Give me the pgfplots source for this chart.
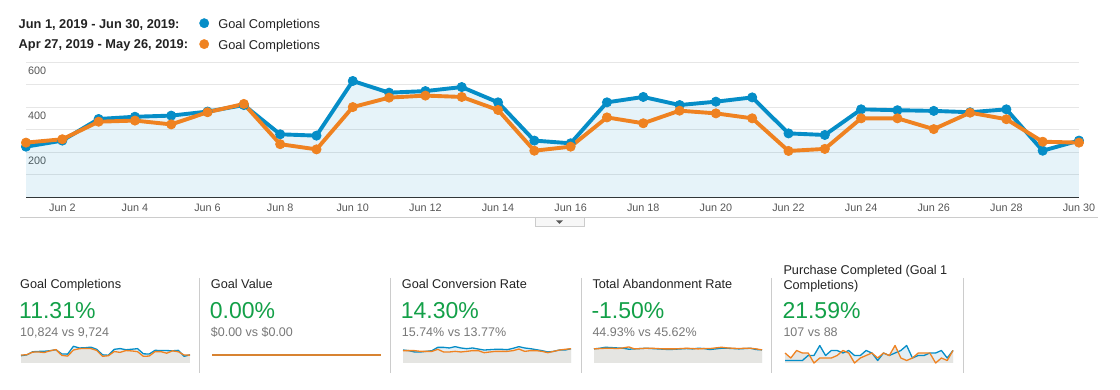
\documentclass[border=0pt]{standalone}
\usepackage{fontspec}
\setmainfont{Liberation Sans}
\usepackage{pgfplots}
\usepackage{pgfplotstable}
\pgfplotsset{compat=1.18}
\definecolor{gablue}{HTML}{058DC7}
\definecolor{gaorange}{HTML}{EF8221}
\definecolor{gridgray}{HTML}{E6E6E6}
\definecolor{basegray}{HTML}{333333}
\definecolor{labelgray}{HTML}{555555}
\definecolor{sepgray}{HTML}{CCCCCC}
\definecolor{sparkgray}{HTML}{E5E5E2}
\definecolor{sparkblue}{HTML}{E3EFF7}
\definecolor{gagreen}{HTML}{13A048}
\definecolor{subgray}{HTML}{777777}
\definecolor{titlecol}{HTML}{222222}
\newcommand\fs[1]{\fontsize{#1}{#1}\selectfont}

\pgfplotstableread{
d cur prev
1 225 243
2 252 258
3 348 336
4 358 341
5 363 324
6 381 378
7 410 415
8 280 236
9 274 213
10 517 401
11 465 443
12 472 452
13 490 446
14 422 388
15 252 207
16 240 225
17 422 355
18 446 329
19 410 385
20 425 373
21 444 351
22 284 206
23 277 215
24 391 351
25 387 351
26 384 303
27 378 376
28 391 347
29 207 247
30 252 243
}\maindata

\pgfplotstableread{
d b o
1 0 0
2 0 0
3 0 0
4 0 0
5 0 0
6 0 0
7 0 0
8 0 0
9 0 0
10 0 0
11 0 0
12 0 0
13 0 0
14 0 0
15 0 0
16 0 0
17 0 0
18 0 0
19 0 0
20 0 0
21 0 0
22 0 0
23 0 0
24 0 0
25 0 0
26 0 0
27 0 0
28 0 0
29 0 0
30 0 0
}\valuedata

\pgfplotstableread{
d b o
1 14.6 13.9
2 13.9 13.9
3 12.4 13.9
4 12.4 13.1
5 13.1 13.1
6 13.9 13.1
7 17.6 15.4
8 17.6 12.4
9 16.9 12.4
10 18.4 13.1
11 16.9 12.4
12 16.1 13.1
13 16.9 13.9
14 15.7 13.9
15 14.6 11.6
16 15.0 12.4
17 15.4 13.1
18 15.4 13.1
19 15.0 13.1
20 16.5 13.9
21 18.4 15.7
22 16.9 13.1
23 16.1 13.9
24 15.0 13.9
25 13.9 13.1
26 12.4 11.6
27 13.1 13.1
28 14.6 14.6
29 14.6 15.4
30 16.1 16.1
}\convdata

\pgfplotstableread{
d b o
1 43 43
2 45 44
3 48 45
4 47 45
5 46 44
6 45 46
7 42 49
8 43 43
9 44 44
10 45 45
11 44 45
12 43 44
13 42 43
14 41 43
15 42 43
16 43 44
17 44 45
18 43 44
19 45 43
20 44 44
21 41 44
22 43 46
23 45 48
24 45 46
25 44 45
26 43 44
27 44 45
28 45 45
29 41 43
30 40 40
}\abandata

\pgfplotstableread{
d b o
1 1 4
2 1 2
3 1 5
4 1 4
5 3 4
6 3 0
7 7 2
8 3 2
9 5 2
10 5 3
11 4 5
12 5 4
13 3 0
14 3 2
15 5 3
16 4 4
17 1 2
18 4 4
19 3 3
20 4 7
21 5 2
22 7 1
23 2 2
24 3 4
25 3 4
26 4 4
27 4 0
28 5 2
29 2 1
30 5 5
}\purchdata

\pgfplotsset{
  spark/.style={scale only axis, hide axis, anchor=south west,
    xmin=1, xmax=30, ymin=0, clip=false, width=168pt, height=20pt},
  sbline/.style={gablue, line width=1.3pt, line join=round},
  soline/.style={gaorange, line width=1.3pt, line join=round},
}

\begin{document}
\begin{tikzpicture}[x=1pt,y=1pt]
\useasboundingbox (0,0) rectangle (1120,390);

% legend date texts
\node[anchor=base west, inner sep=0pt, text=titlecol, font=\bfseries\fs{12.8}] at (18.5,361.7) {Jun 1, 2019 - Jun 30, 2019:};
\node[anchor=base west, inner sep=0pt, text=titlecol, font=\bfseries\fs{12.8}] at (18.5,341) {Apr 27, 2019 - May 26, 2019:};

\begin{axis}[
  at={(26pt,192.7pt)}, anchor=south west, scale only axis,
  width=1053pt, height=135pt,
  xmin=1, xmax=30, ymin=0, ymax=600,
  clip=false,
  axis line style={draw=none},
  major tick length=0pt, minor tick length=0pt,
  xtick={2,4,...,30},
  xticklabels={Jun 2,Jun 4,Jun 6,Jun 8,Jun 10,Jun 12,Jun 14,Jun 16,Jun 18,Jun 20,Jun 22,Jun 24,Jun 26,Jun 28,Jun 30},
  xticklabel style={font=\fs{10.8}, text=labelgray, anchor=north, inner sep=0pt, yshift=-6.5pt},
  ytick={200,400,600}, yticklabels={200,400,600},
  yticklabel style={font=\fs{10.8}, text=labelgray, anchor=north west, inner sep=0pt, xshift=2pt, yshift=-4.5pt},
  minor ytick={100,300,500},
  ymajorgrids, yminorgrids,
  major grid style={draw=gridgray, line width=0.9pt},
  minor grid style={draw=gridgray, line width=0.9pt},
  extra y ticks={0}, extra y tick labels={},
  extra y tick style={major grid style={draw=basegray, line width=1.3pt}},
  legend columns=1,
  legend style={at={(0.16458,1.32593)}, anchor=north west, draw=none, fill=none,
    inner sep=0pt, outer sep=0pt, row sep=10.7pt,
    nodes={inner sep=0pt, anchor=base west, text height=9.5pt, text depth=0pt, font=\fs{12.8}, text=titlecol},
    /tikz/every odd column/.append style={column sep=9.3pt}},
]
\addplot[draw=none, fill=gablue, fill opacity=0.1, forget plot] table[x=d,y=cur]{\maindata} \closedcycle;
\addplot[gablue, line width=3.9pt, line join=round, mark=*, mark size=4.6pt, mark options={line width=0.8pt}, forget plot] table[x=d,y=cur]{\maindata};
\addplot[gaorange, line width=3.9pt, line join=round, mark=*, mark size=4.6pt, mark options={line width=0.8pt}, forget plot] table[x=d,y=prev]{\maindata};
\addlegendimage{legend image code/.code={\fill[gablue] (4.7pt,5.3pt) circle (4.7pt);}}
\addlegendentry{Goal Completions}
\addlegendimage{legend image code/.code={\fill[gaorange] (4.7pt,5.3pt) circle (4.7pt);}}
\addlegendentry{Goal Completions}
\end{axis}

% bottom line and tab
\draw[sepgray, line width=1pt] (20,172) -- (1098,172);
\draw[sepgray, fill=gray!6, line width=0.8pt] (535,172) -- (535,164) -- (584,164) -- (584,172);
\fill[gray!70!black] (556,169.5) -- (563,169.5) -- (559.5,166) -- cycle;

% separators
\foreach \xx in {199,390.5,581.5,771.5,963} {
  \draw[sepgray, line width=1pt] (\xx,112) -- (\xx,17);
}

% scorecard texts
\node[anchor=base west, inner sep=0pt, text=titlecol, font=\fs{12.7}] at (20,101) {Goal Completions};
\node[anchor=base west, inner sep=0pt, text=gagreen, font=\fs{23}] at (19,71) {11.31\%};
\node[anchor=base west, inner sep=0pt, text=subgray, font=\fs{12.5}] at (20,53.5) {10,824 vs 9,724};

\node[anchor=base west, inner sep=0pt, text=titlecol, font=\fs{12.7}] at (210.7,101) {Goal Value};
\node[anchor=base west, inner sep=0pt, text=gagreen, font=\fs{23}] at (209.7,71) {0.00\%};
\node[anchor=base west, inner sep=0pt, text=subgray, font=\fs{12.5}] at (210.7,53.5) {\$0.00 vs \$0.00};

\node[anchor=base west, inner sep=0pt, text=titlecol, font=\fs{12.7}] at (401.7,101) {Goal Conversion Rate};
\node[anchor=base west, inner sep=0pt, text=gagreen, font=\fs{23}] at (400.7,71) {14.30\%};
\node[anchor=base west, inner sep=0pt, text=subgray, font=\fs{12.5}] at (401.7,53.5) {15.74\% vs 13.77\%};

\node[anchor=base west, inner sep=0pt, text=titlecol, font=\fs{12.7}] at (592.3,101) {Total Abandonment Rate};
\node[anchor=base west, inner sep=0pt, text=gagreen, font=\fs{23}] at (591.3,71) {-1.50\%};
\node[anchor=base west, inner sep=0pt, text=subgray, font=\fs{12.5}] at (592.3,53.5) {44.93\% vs 45.62\%};

\node[anchor=base west, inner sep=0pt, text=titlecol, font=\fs{12.7}] at (783.3,115.5) {Purchase Completed (Goal 1};
\node[anchor=base west, inner sep=0pt, text=titlecol, font=\fs{12.7}] at (783.3,100) {Completions)};
\node[anchor=base west, inner sep=0pt, text=gagreen, font=\fs{23}] at (782.3,71) {21.59\%};
\node[anchor=base west, inner sep=0pt, text=subgray, font=\fs{12.5}] at (783.3,53.5) {107 vs 88};

% sparklines
\begin{axis}[spark, at={(21pt,27pt)}, width=169pt, height=19.4pt, ymax=600]
\addplot[draw=none, fill=sparkblue] table[x=d,y=cur]{\maindata} \closedcycle;
\addplot[draw=none, fill=sparkgray] table[x=d,y=prev]{\maindata} \closedcycle;
\addplot[sbline] table[x=d,y=cur]{\maindata};
\addplot[soline] table[x=d,y=prev]{\maindata};
\end{axis}

\begin{axis}[spark, at={(212pt,34pt)}, width=169pt, height=2pt, ymin=-1, ymax=1]
\addplot[gablue, line width=1.5pt] table[x=d,y=b]{\valuedata};
\addplot[gaorange, line width=1.5pt, opacity=0.9] table[x=d,y=o]{\valuedata};
\end{axis}

\begin{axis}[spark, at={(403pt,27pt)}, width=168pt, ymax=22.5]
\addplot[draw=none, fill=sparkblue] table[x=d,y=b]{\convdata} \closedcycle;
\addplot[draw=none, fill=sparkgray] table[x=d,y=o]{\convdata} \closedcycle;
\addplot[sbline] table[x=d,y=b]{\convdata};
\addplot[soline] table[x=d,y=o]{\convdata};
\end{axis}

\begin{axis}[spark, at={(594pt,27pt)}, width=168pt, ymax=61]
\addplot[draw=none, fill=sparkblue] table[x=d,y=b]{\abandata} \closedcycle;
\addplot[draw=none, fill=sparkgray] table[x=d,y=o]{\abandata} \closedcycle;
\addplot[sbline] table[x=d,y=b]{\abandata};
\addplot[soline] table[x=d,y=o]{\abandata};
\end{axis}

\begin{axis}[spark, at={(785pt,27pt)}, width=168pt, ymax=8]
\addplot[draw=none, fill=sparkblue] table[x=d,y=b]{\purchdata} \closedcycle;
\addplot[draw=none, fill=sparkgray] table[x=d,y=o]{\purchdata} \closedcycle;
\addplot[sbline] table[x=d,y=b]{\purchdata};
\addplot[soline] table[x=d,y=o]{\purchdata};
\end{axis}
\end{tikzpicture}
\end{document}
